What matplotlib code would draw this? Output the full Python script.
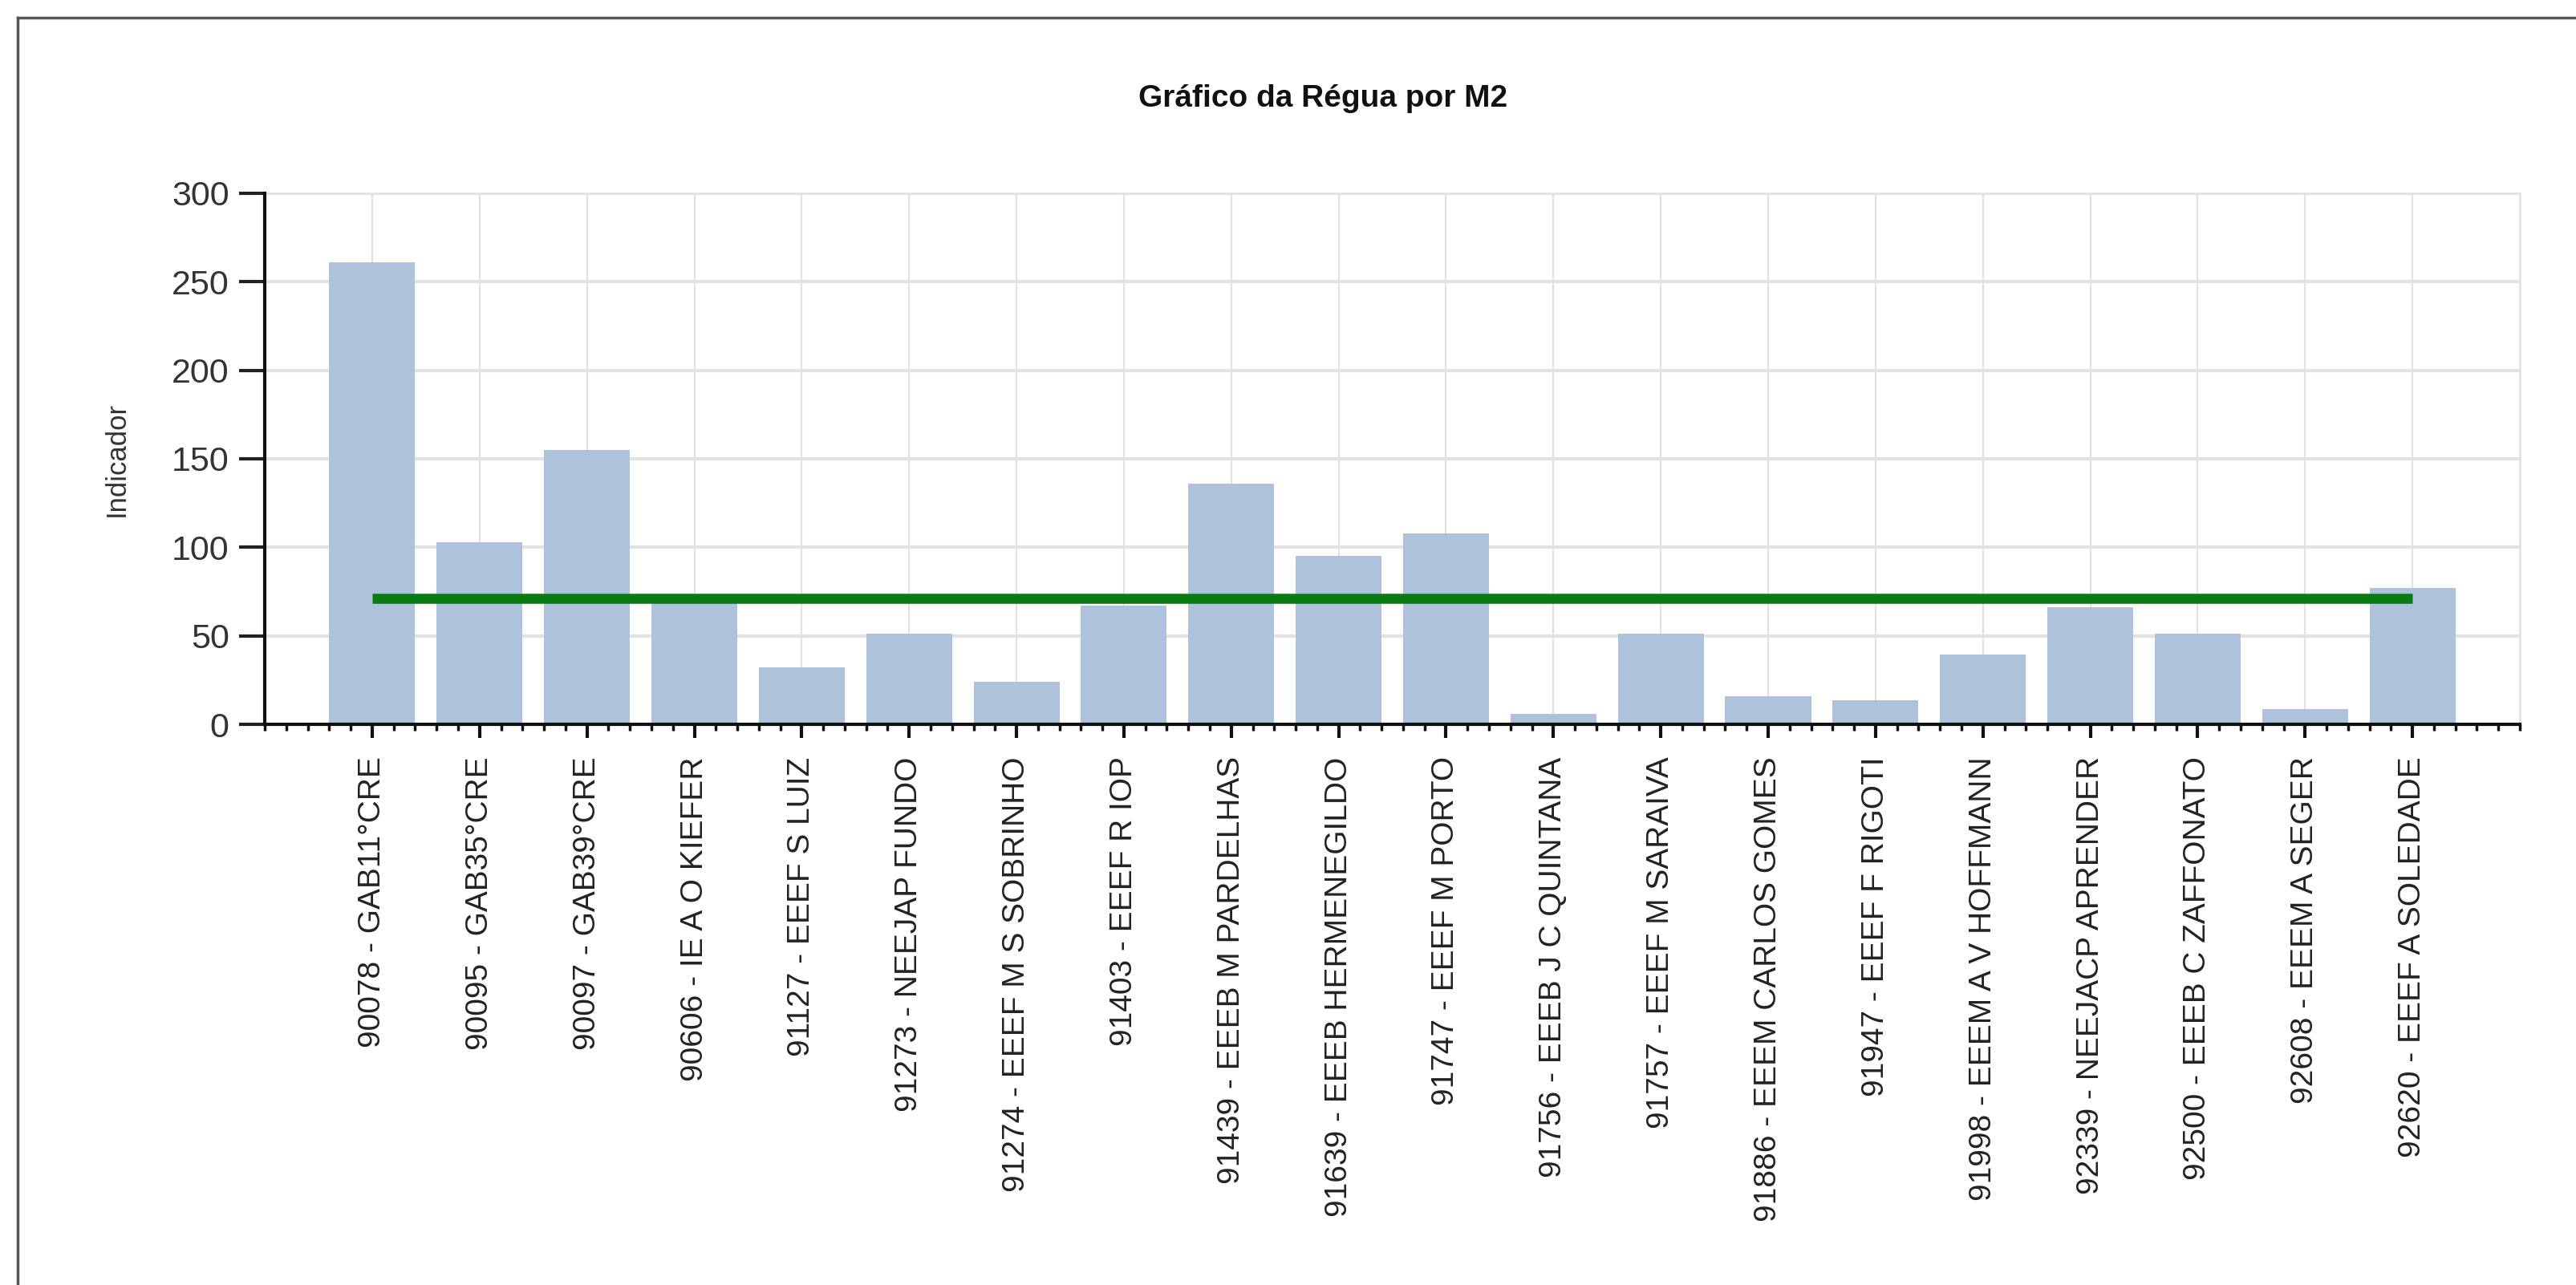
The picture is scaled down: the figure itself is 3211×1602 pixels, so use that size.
import matplotlib.pyplot as plt
from matplotlib.ticker import MultipleLocator
from matplotlib.lines import Line2D

# dados
escolas = [
    "90078 - GAB11°CRE",
    "90095 - GAB35°CRE",
    "90097 - GAB39°CRE",
    "90606 - IE A O KIEFER",
    "91127 - EEEF S LUIZ",
    "91273 - NEEJAP FUNDO",
    "91274 - EEEF M S SOBRINHO",
    "91403 - EEEF R IOP",
    "91439 - EEEB M PARDELHAS",
    "91639 - EEEB HERMENEGILDO",
    "91747 - EEEF M PORTO",
    "91756 - EEEB J C QUINTANA",
    "91757 - EEEF M SARAIVA",
    "91886 - EEEM CARLOS GOMES",
    "91947 - EEEF F RIGOTI",
    "91998 - EEEM A V HOFFMANN",
    "92339 - NEEJACP APRENDER",
    "92500 - EEEB C ZAFFONATO",
    "92608 - EEEM A SEGER",
    "92620 - EEEF A SOLEDADE",
]
indicador = [261, 103, 155, 69, 32, 51, 24, 67, 136, 95,
             108, 6, 51, 16, 13.5, 39.5, 66, 51, 8.5, 77]
regua = 71
yticks = [0, 50, 100, 150, 200, 250, 300]

narrow = ['Liberation Sans Narrow', 'Liberation Sans', 'DejaVu Sans']
normal = ['Liberation Sans', 'DejaVu Sans']

fig = plt.figure(figsize=(32.11, 16.02), dpi=100)
ax = fig.add_axes([0.1028, 0.4363, 0.8754, 0.4133])

x = list(range(len(escolas)))
ax.bar(x, indicador, width=0.8, color='#aec2dc', zorder=2)
ax.hlines(regua, x[0], x[-1], color='#0b7a12', linewidth=9, zorder=3)

ax.set_xlim(-1, len(escolas))
ax.set_ylim(0, 300)
ax.set_axisbelow(True)

ax.set_xticks(x)
ax.set_xticklabels(escolas, rotation=90, family=normal, fontsize=28, color='#222222')
ax.xaxis.set_minor_locator(MultipleLocator(0.2))
ax.tick_params(axis='x', which='major', direction='out', length=12, width=3,
               color='#111111', pad=17)
ax.tick_params(axis='x', which='minor', direction='out', length=6, width=2.5,
               color='#111111')

ax.set_yticks(yticks)
ax.set_yticklabels([str(v) for v in yticks], family=narrow, fontsize=31, color='#333333')
ax.tick_params(axis='y', which='major', direction='out', length=23, width=3,
               color='#222222', pad=9)

ax.yaxis.grid(True, color='#e2e2e2', linewidth=3)
ax.xaxis.grid(True, which='major', color='#e2e2e2', linewidth=1.6)

for lado in ['left', 'bottom']:
    ax.spines[lado].set_color('#111111')
    ax.spines[lado].set_linewidth(3)
    ax.spines[lado].set_zorder(4)
for lado in ['top', 'right']:
    ax.spines[lado].set_color('#e2e2e2')
    ax.spines[lado].set_linewidth(2)

ax.set_ylabel("Indicador", family=normal, fontsize=25, color='#333333')
ax.yaxis.set_label_coords(-0.060, 0.5)

fig.text(0.5135, 0.923, "Gráfico da Régua por M2", family=narrow, fontsize=28,
         fontweight='bold', ha='center', va='center', color='#111111')

# moldura (topo e esquerda)
fig.add_artist(Line2D([22 / 3211, 1], [1 - 22 / 1602, 1 - 22 / 1602],
                      transform=fig.transFigure, color='#555555', linewidth=2.5))
fig.add_artist(Line2D([22 / 3211, 22 / 3211], [0, 1 - 22 / 1602],
                      transform=fig.transFigure, color='#555555', linewidth=2.5))

fig.savefig('out.png', dpi=100)
